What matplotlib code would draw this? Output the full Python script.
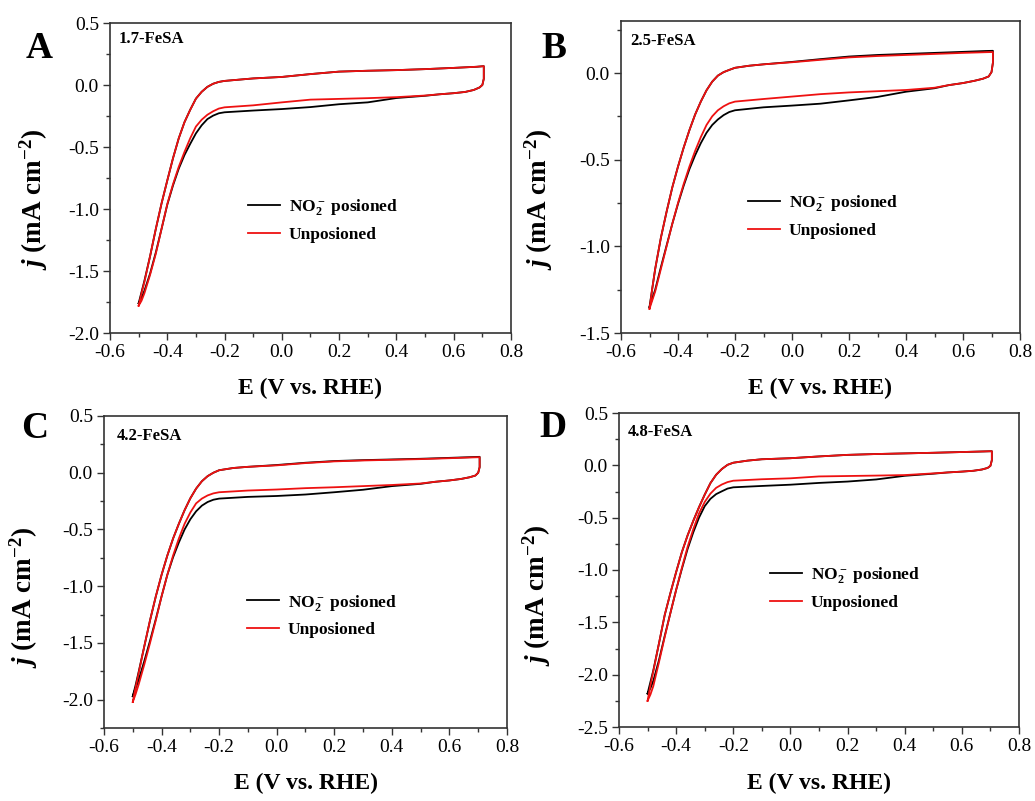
import matplotlib
matplotlib.use("Agg")
import matplotlib.pyplot as plt
from matplotlib.ticker import MultipleLocator, FormatStrFormatter

plt.rcParams["font.family"] = ["Liberation Serif", "DejaVu Serif"]
plt.rcParams["mathtext.fontset"] = "custom"
plt.rcParams["mathtext.rm"] = "Liberation Serif:bold"
plt.rcParams["mathtext.bf"] = "Liberation Serif:bold"
plt.rcParams["mathtext.it"] = "Liberation Serif:italic:bold"
plt.rcParams["axes.unicode_minus"] = False

# Potential program (V vs. RHE): cathodic-limit -> anodic-limit, then back
E_forward = [-0.50, -0.49, -0.48, -0.46, -0.44, -0.42, -0.40, -0.38, -0.36, -0.34,
             -0.32, -0.30, -0.28, -0.26, -0.24, -0.22, -0.20, -0.15, -0.10, 0.00,
             0.10, 0.20, 0.30, 0.40, 0.50, 0.60, 0.68, 0.705]
E_reverse = [0.705, 0.70, 0.69, 0.67, 0.64, 0.60, 0.55, 0.50, 0.40, 0.30,
             0.20, 0.10, 0.00, -0.10, -0.20, -0.22, -0.24, -0.26, -0.28, -0.30,
             -0.32, -0.34, -0.36, -0.38, -0.40, -0.42, -0.44, -0.46, -0.48, -0.49, -0.50]

# ---- 1.7-FeSA ----
jA_pois_fwd = [-1.76, -1.67, -1.58, -1.38, -1.16, -0.955, -0.77, -0.59, -0.43, -0.30,
               -0.20, -0.11, -0.055, -0.015, 0.010, 0.025, 0.033, 0.043, 0.053, 0.065,
               0.088, 0.108, 0.115, 0.120, 0.128, 0.138, 0.147, 0.152]
jA_pois_rev = [0.05, 0.0, -0.02, -0.04, -0.056, -0.066, -0.075, -0.087, -0.105, -0.140,
               -0.155, -0.178, -0.194, -0.206, -0.220, -0.228, -0.247, -0.275, -0.325, -0.39,
               -0.475, -0.565, -0.675, -0.81, -0.965, -1.16, -1.35, -1.52, -1.66, -1.72, -1.76]
jA_clean_fwd = [-1.78, -1.68, -1.59, -1.38, -1.16, -0.955, -0.77, -0.59, -0.43, -0.30,
                -0.20, -0.11, -0.055, -0.015, 0.010, 0.025, 0.033, 0.043, 0.053, 0.065,
                0.088, 0.108, 0.115, 0.120, 0.128, 0.138, 0.147, 0.152]
jA_clean_rev = [0.05, 0.0, -0.02, -0.04, -0.056, -0.066, -0.075, -0.085, -0.098, -0.106,
                -0.112, -0.118, -0.140, -0.164, -0.180, -0.190, -0.212, -0.240, -0.280, -0.335,
                -0.43, -0.54, -0.66, -0.80, -0.96, -1.16, -1.36, -1.53, -1.68, -1.74, -1.78]

# ---- 2.5-FeSA ----
jB_pois_fwd = [-1.35, -1.24, -1.13, -0.95, -0.80, -0.66, -0.54, -0.43, -0.33, -0.24,
               -0.165, -0.10, -0.05, -0.015, 0.005, 0.018, 0.030, 0.042, 0.050, 0.064,
               0.080, 0.095, 0.104, 0.110, 0.116, 0.122, 0.127, 0.128]
jB_pois_rev = [0.06, 0.005, -0.02, -0.033, -0.045, -0.058, -0.070, -0.088, -0.108, -0.138,
               -0.158, -0.177, -0.188, -0.198, -0.215, -0.225, -0.243, -0.268, -0.300, -0.345,
               -0.405, -0.475, -0.555, -0.65, -0.755, -0.87, -0.995, -1.12, -1.25, -1.30, -1.35]
jB_clean_fwd = [-1.36, -1.24, -1.13, -0.95, -0.80, -0.66, -0.54, -0.43, -0.33, -0.24,
                -0.165, -0.10, -0.05, -0.015, 0.005, 0.018, 0.030, 0.042, 0.050, 0.062,
                0.076, 0.090, 0.098, 0.104, 0.110, 0.116, 0.120, 0.121]
jB_clean_rev = [0.06, 0.005, -0.02, -0.033, -0.045, -0.058, -0.070, -0.085, -0.098, -0.105,
                -0.112, -0.122, -0.136, -0.150, -0.165, -0.175, -0.192, -0.215, -0.250, -0.300,
                -0.37, -0.45, -0.54, -0.64, -0.75, -0.87, -1.00, -1.13, -1.26, -1.31, -1.36]

# ---- 4.2-FeSA ----
jC_pois_fwd = [-1.97, -1.87, -1.76, -1.53, -1.30, -1.09, -0.90, -0.73, -0.58, -0.45,
               -0.33, -0.225, -0.14, -0.075, -0.03, 0.0, 0.022, 0.042, 0.052, 0.068,
               0.088, 0.103, 0.111, 0.117, 0.123, 0.131, 0.138, 0.140]
jC_pois_rev = [0.05, 0.0, -0.025, -0.04, -0.055, -0.068, -0.080, -0.098, -0.118, -0.150,
               -0.172, -0.192, -0.205, -0.213, -0.228, -0.238, -0.258, -0.290, -0.340, -0.41,
               -0.50, -0.615, -0.745, -0.90, -1.09, -1.29, -1.48, -1.66, -1.83, -1.90, -1.97]
jC_clean_fwd = [-2.02, -1.89, -1.77, -1.53, -1.30, -1.09, -0.90, -0.73, -0.58, -0.45,
                -0.33, -0.225, -0.14, -0.075, -0.03, 0.0, 0.022, 0.042, 0.052, 0.065,
                0.085, 0.100, 0.108, 0.114, 0.120, 0.128, 0.135, 0.137]
jC_clean_rev = [0.05, 0.0, -0.025, -0.04, -0.055, -0.068, -0.080, -0.095, -0.108, -0.118,
                -0.128, -0.136, -0.148, -0.157, -0.172, -0.182, -0.200, -0.228, -0.270, -0.350,
                -0.45, -0.58, -0.73, -0.90, -1.09, -1.30, -1.50, -1.69, -1.87, -1.95, -2.02]

# ---- 4.8-FeSA ----
jD_pois_fwd = [-2.18, -2.07, -1.96, -1.70, -1.43, -1.22, -1.02, -0.83, -0.67, -0.53,
               -0.40, -0.28, -0.17, -0.09, -0.035, 0.005, 0.025, 0.045, 0.058, 0.068,
               0.085, 0.100, 0.108, 0.114, 0.120, 0.127, 0.133, 0.135]
jD_pois_rev = [0.05, -0.005, -0.025, -0.04, -0.052, -0.060, -0.068, -0.080, -0.100, -0.135,
               -0.155, -0.168, -0.185, -0.197, -0.210, -0.222, -0.248, -0.275, -0.320, -0.39,
               -0.50, -0.64, -0.80, -0.99, -1.19, -1.41, -1.63, -1.86, -2.06, -2.13, -2.18]
jD_clean_fwd = [-2.25, -2.10, -1.97, -1.70, -1.43, -1.22, -1.02, -0.83, -0.67, -0.53,
                -0.40, -0.28, -0.17, -0.09, -0.035, 0.005, 0.025, 0.045, 0.058, 0.068,
                0.085, 0.100, 0.108, 0.114, 0.120, 0.127, 0.133, 0.135]
jD_clean_rev = [0.05, -0.005, -0.025, -0.04, -0.052, -0.060, -0.068, -0.077, -0.093, -0.098,
                -0.102, -0.106, -0.124, -0.133, -0.147, -0.160, -0.183, -0.215, -0.270, -0.35,
                -0.46, -0.61, -0.78, -0.98, -1.19, -1.41, -1.64, -1.88, -2.11, -2.19, -2.25]

panel_letters = ["A", "B", "C", "D"]
sample_names = ["1.7-FeSA", "2.5-FeSA", "4.2-FeSA", "4.8-FeSA"]
y_limits = [(-2.0, 0.5), (-1.5, 0.3), (-2.25, 0.5), (-2.5, 0.5)]
series_labels = [r"NO$_2^-$ posioned", "Unposioned"]
series_colors = ["#000000", "#ee1111"]

poisoned = [(jA_pois_fwd, jA_pois_rev), (jB_pois_fwd, jB_pois_rev),
            (jC_pois_fwd, jC_pois_rev), (jD_pois_fwd, jD_pois_rev)]
unpoisoned = [(jA_clean_fwd, jA_clean_rev), (jB_clean_fwd, jB_clean_rev),
              (jC_clean_fwd, jC_clean_rev), (jD_clean_fwd, jD_clean_rev)]

W, H = 1035, 801
fig = plt.figure(figsize=(W / 100, H / 100), dpi=100)

# axes boxes in pixels: left, right, top, bottom
boxes = [(110, 511, 23, 333), (621, 1020, 21, 333),
         (104, 507, 416, 728), (619, 1019, 413, 727)]
legend_anchor = [(0.344, 0.365), (0.318, 0.374), (0.355, 0.361), (0.378, 0.443)]
name_pos = [(0.022, 0.935), (0.023, 0.923), (0.032, 0.923), (0.0225, 0.927)]
ylabel_pos = [(-0.150, 0.432), (-0.165, 0.43), (-0.159, 0.42), (-0.165, 0.42)]
letter_pos = [(26, 58), (541, 58), (21, 438), (539, 437)]

E_loop = E_forward + E_reverse

for i in range(4):
    l, r, t, b = boxes[i]
    ax = fig.add_axes([l / W, 1 - b / H, (r - l) / W, (b - t) / H])
    for (fwd, rev), color, lab in zip([poisoned[i], unpoisoned[i]], series_colors, series_labels):
        ax.plot(E_loop, list(fwd) + list(rev), color=color, lw=1.3, label=lab,
                solid_joinstyle="round")
    ax.set_xlim(-0.6, 0.8)
    ax.set_ylim(*y_limits[i])
    ax.xaxis.set_major_locator(MultipleLocator(0.2))
    ax.xaxis.set_minor_locator(MultipleLocator(0.1))
    ax.yaxis.set_major_locator(MultipleLocator(0.5))
    ax.yaxis.set_minor_locator(MultipleLocator(0.25))
    ax.xaxis.set_major_formatter(FormatStrFormatter("%.1f"))
    ax.yaxis.set_major_formatter(FormatStrFormatter("%.1f"))
    ax.tick_params(which="major", direction="out", length=5, width=1.0,
                   labelsize=14, color="#333333", pad=3)
    ax.tick_params(which="minor", direction="out", length=3, width=1.0, color="#333333")
    ax.tick_params(top=False, right=False, which="both")
    for sp in ax.spines.values():
        sp.set_color("#333333")
        sp.set_linewidth(1.2)

    ax.set_xlabel("E (V vs. RHE)", fontsize=17, fontweight="bold")
    ax.xaxis.set_label_coords(0.5, -0.145)
    ax.set_ylabel(r"$j$ (mA cm$^{-2}$)", fontsize=19.5, fontweight="bold")
    ax.yaxis.set_label_coords(*ylabel_pos[i])

    ax.text(name_pos[i][0], name_pos[i][1], sample_names[i], transform=ax.transAxes,
            fontsize=12, fontweight="bold", va="baseline", ha="left")

    ax.legend(loc="center left", bbox_to_anchor=legend_anchor[i], frameon=False,
              prop={"weight": "bold", "size": 12.5}, handlelength=1.85,
              handletextpad=0.5, labelspacing=0.55, borderpad=0, borderaxespad=0)

    lx, ly = letter_pos[i]
    fig.text(lx / W, 1 - ly / H, panel_letters[i], fontsize=27, fontweight="bold",
             va="baseline", ha="left")

fig.savefig("out.png", dpi=100)
